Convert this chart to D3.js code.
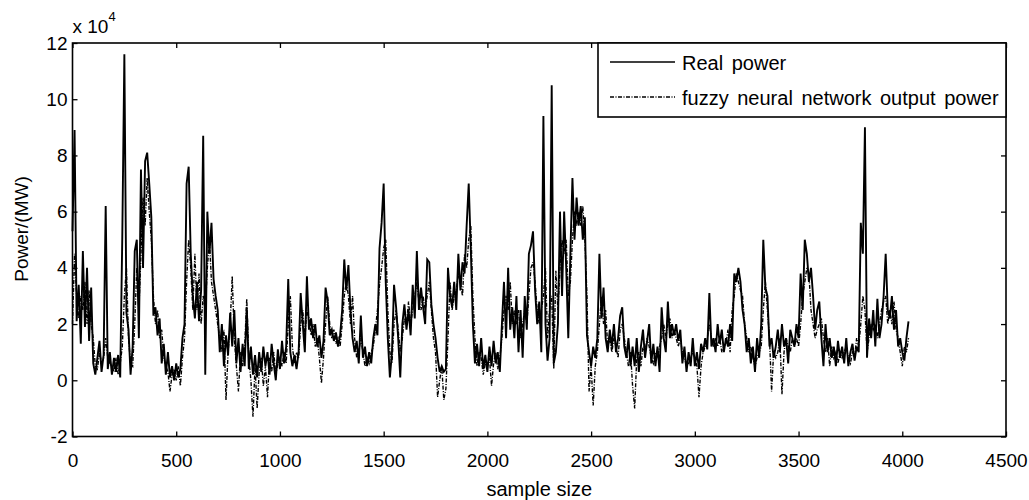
<!DOCTYPE html>
<html><head><meta charset="utf-8">
<script src="https://cdn.jsdelivr.net/npm/d3@7"></script>
<style>
html,body{margin:0;padding:0;background:#fff;}
svg{display:block;font-family:"Liberation Sans",Arial,Helvetica,sans-serif;}
</style></head>
<body><svg id="chart" width="1029" height="500"></svg>
<script>
// sample index step between stored values
const sampleStep = 10;
// Real power (x 10^4 MW), one value every 10 samples starting at 0
const realPower = [
5.3,8.9,2.1,3.4,1.3,4.6,1.9,4.0,1.4,3.3,
0.6,0.2,0.8,1.4,0.3,0.9,6.2,0.4,1.0,0.2,
0.8,0.3,0.9,0.1,5.1,11.6,2.4,1.8,0.2,1.2,
4.6,5.0,1.5,7.5,4.0,7.8,8.1,7.0,5.8,2.3,
2.6,1.6,2.2,0.6,1.3,0.2,1.0,0.1,0.5,0.0,
0.6,0.1,0.4,1.5,2.0,7.0,7.6,4.5,3.0,2.2,
3.5,2.1,3.2,8.7,0.2,6.0,4.5,5.6,3.6,3.0,
2.5,1.0,2.0,0.5,1.6,0.9,2.4,1.2,2.5,0.6,
1.5,0.3,1.3,0.5,2.6,0.4,1.2,0.2,0.9,0.1,
1.0,0.3,1.2,0.5,1.0,0.2,1.3,0.6,0.0,1.1,
0.4,1.4,0.6,1.2,3.6,1.0,0.5,0.9,0.4,1.0,
3.1,2.0,1.0,3.7,1.8,2.2,1.5,2.0,1.2,1.6,
0.8,1.4,3.3,2.8,1.6,1.8,1.4,1.7,1.2,1.6,
2.5,4.3,3.2,4.1,2.5,1.5,1.0,1.4,0.6,2.3,
0.8,1.2,0.5,1.0,0.6,1.5,2.0,1.6,4.7,5.6,
7.0,3.5,1.5,0.1,1.0,3.4,2.6,1.5,0.1,2.0,
2.7,1.8,2.5,1.6,3.4,2.2,4.6,2.5,3.3,2.6,
2.0,4.3,4.2,2.7,2.0,1.5,0.8,0.3,0.5,0.3,
0.4,4.0,3.0,2.6,3.5,2.5,4.5,3.2,4.2,3.8,
5.5,7.0,4.7,2.0,0.6,1.3,0.5,1.5,0.4,0.9,
0.3,1.2,0.5,1.4,0.6,1.0,0.3,2.0,3.5,1.5,
4.0,1.8,2.6,1.5,3.0,1.0,2.5,0.8,3.0,1.8,
4.5,4.8,5.3,3.2,2.0,2.8,1.0,9.4,2.0,0.7,
1.5,10.5,0.6,1.0,2.0,6.0,3.0,6.0,4.0,1.5,
4.5,7.2,5.0,6.5,5.5,6.2,5.0,5.8,1.6,1.0,
0.5,1.2,0.8,1.5,4.5,2.2,3.3,1.5,1.0,1.8,
1.2,2.0,1.0,1.5,2.3,2.6,1.2,0.8,1.5,0.5,
1.2,0.5,1.5,0.3,1.2,1.8,0.8,1.4,2.0,0.6,
1.3,0.5,1.2,0.3,2.6,1.5,1.0,2.8,1.5,2.0,
1.6,2.0,1.4,1.8,0.6,1.2,0.3,1.0,0.5,1.5,
0.5,1.0,0.4,1.3,1.0,1.5,1.1,3.1,1.2,1.5,
1.0,2.0,1.3,1.8,1.0,1.5,1.2,2.0,1.4,3.8,
3.5,4.0,3.5,2.5,2.0,1.0,1.5,0.6,1.2,0.3,
1.5,0.8,2.0,5.0,3.3,3.0,1.2,1.5,0.8,1.2,
1.8,1.0,2.0,1.2,1.5,0.6,1.8,1.5,1.2,2.0,
1.5,3.8,2.5,5.0,4.5,3.5,4.0,3.0,1.8,2.5,
2.8,1.5,0.5,2.0,1.0,1.5,0.8,1.2,0.5,1.4,
0.8,1.2,0.6,1.5,0.5,1.0,1.3,0.7,1.2,1.0,
5.6,4.5,9.0,0.8,2.2,1.5,2.5,1.2,2.9,1.5,
2.0,3.0,4.5,2.5,2.2,3.0,1.8,2.5,1.2,1.5,
1.0,0.7,1.5,2.1
];
// Fuzzy neural network output power (x 10^4 MW), same sampling
const fnnPower = [
2.0,4.5,3.0,2.2,3.0,2.5,3.5,2.0,3.2,2.0,
1.5,0.5,0.4,1.0,0.6,0.8,1.5,0.8,0.6,0.5,
0.3,0.8,0.2,0.6,1.2,3.0,4.0,1.5,0.6,0.5,
2.0,4.0,2.5,4.5,6.5,5.5,7.2,6.0,5.0,3.0,
2.0,2.5,1.5,1.8,0.8,0.5,0.3,-0.4,0.2,0.4,
0.0,0.5,-0.2,0.8,1.5,3.5,5.0,4.0,2.5,4.5,
2.5,3.8,2.0,3.0,2.5,4.0,5.0,3.5,3.0,2.5,
2.0,1.5,1.0,1.8,-0.7,1.0,2.0,3.7,1.5,0.5,
-0.4,1.0,0.5,1.2,2.9,0.8,0.0,-1.3,0.5,-1.0,
0.3,0.8,-0.2,0.5,-0.6,0.8,0.3,1.0,0.2,0.6,
0.8,0.5,1.0,0.6,2.0,3.0,1.2,0.6,1.0,0.8,
2.0,2.5,1.5,2.5,2.2,1.6,2.0,1.2,1.5,0.8,
-0.1,0.8,2.0,3.0,2.0,1.5,1.8,1.3,1.5,1.2,
2.0,3.0,3.5,3.0,2.0,3.0,1.5,0.8,1.0,1.5,
1.0,0.5,0.8,0.6,1.0,1.2,1.8,2.5,3.4,4.0,
4.7,5.0,2.5,1.0,0.6,2.0,2.5,1.8,1.0,1.5,
2.2,2.0,2.8,2.0,2.5,3.0,3.5,2.8,2.5,3.0,
2.5,3.0,3.5,2.5,1.5,1.0,-0.6,0.0,0.5,-0.7,
-0.3,1.5,3.5,2.5,3.0,3.2,3.8,3.5,3.0,4.5,
4.0,5.0,5.5,3.0,1.5,0.5,1.0,0.8,0.2,0.6,
0.5,0.8,-0.2,0.6,1.0,0.4,0.8,1.5,2.5,3.0,
2.5,3.5,2.0,2.5,2.0,2.5,1.5,2.0,2.5,2.0,
3.0,4.0,4.2,3.5,2.5,2.0,2.5,3.0,4.0,1.5,
2.5,3.0,0.4,3.9,2.5,4.0,5.0,4.5,5.0,3.0,
3.5,5.0,6.0,5.5,6.0,5.5,6.2,5.0,3.0,-0.4,
0.5,-0.9,0.5,1.0,2.0,3.0,2.0,2.5,1.2,1.5,
1.0,1.5,1.2,0.8,1.8,2.0,1.5,1.0,0.5,1.0,
-0.2,-1.0,0.8,1.0,0.5,1.2,1.0,1.5,1.2,0.8,
0.6,1.0,0.8,1.2,1.5,2.0,1.5,2.0,2.2,1.5,
1.8,1.5,1.2,1.5,1.0,0.8,0.5,0.6,0.8,1.0,
0.8,0.5,-0.6,0.5,1.0,1.2,1.5,2.0,1.5,1.2,
1.5,1.2,1.5,1.0,1.2,1.3,1.8,1.0,2.5,3.0,
3.8,3.5,3.2,3.0,2.0,1.5,1.0,1.2,0.8,0.5,
0.8,1.0,1.2,2.5,3.5,2.5,1.5,-0.4,1.0,0.8,
1.0,1.5,-0.5,1.0,1.5,1.2,1.0,1.5,1.2,1.5,
1.2,2.0,3.0,3.5,4.0,3.8,2.5,2.0,1.5,1.8,
2.0,2.2,1.5,1.0,1.5,0.5,1.2,0.8,1.0,0.6,
1.0,0.8,1.0,1.2,0.8,0.6,1.0,0.8,1.5,1.2,
2.0,3.0,2.5,1.0,1.5,2.0,1.8,2.0,1.5,2.0,
2.5,2.8,3.0,2.0,2.5,2.0,2.8,1.8,1.5,1.0,
0.5,1.2,1.0,1.5
];
const xTicks = [0,500,1000,1500,2000,2500,3000,3500,4000,4500];
const yTicks = [-2,0,2,4,6,8,10,12];
const seriesNames = ["Real power","fuzzy neural network output power"];
const xLabel = "sample size";
const yLabel = "Power/(MW)";
const expLabel = "x 10";
const expPower = "4";

const svg = d3.select("#chart");
const L = 72.5, R = 1006, T = 43, B = 436.5;
const x = d3.scaleLinear().domain([0,4500]).range([L,R]);
const y = d3.scaleLinear().domain([-2,12]).range([B,T]);

const line = d3.line().x((d,i)=>x(i*sampleStep)).y(d=>y(d));

svg.append("path").datum(realPower).attr("d",line)
  .attr("fill","none").attr("stroke","#000").attr("stroke-width",1.9).attr("stroke-linejoin","miter");
svg.append("path").datum(fnnPower).attr("d",line)
  .attr("fill","none").attr("stroke","#000").attr("stroke-width",1.4)
  .attr("stroke-dasharray","4,1.5,1,1.5");

const fs = 19;
const fmt = d => String(d);
const gx = svg.append("g").attr("transform",`translate(0,${B})`)
  .call(d3.axisBottom(x).tickValues(xTicks).tickFormat(fmt).tickSizeInner(-5).tickSizeOuter(0).tickPadding(15));
const gxt = svg.append("g").attr("transform",`translate(0,${T})`)
  .call(d3.axisTop(x).tickValues(xTicks).tickFormat("").tickSizeInner(-5).tickSizeOuter(0));
const gy = svg.append("g").attr("transform",`translate(${L},0)`)
  .call(d3.axisLeft(y).tickValues(yTicks).tickFormat(fmt).tickSizeInner(-5).tickSizeOuter(0).tickPadding(5));
const gyr = svg.append("g").attr("transform",`translate(${R},0)`)
  .call(d3.axisRight(y).tickValues(yTicks).tickFormat("").tickSizeInner(-5).tickSizeOuter(0));
[gx,gxt,gy,gyr].forEach(g=>{
  g.select(".domain").remove();
  g.selectAll(".tick line").attr("stroke","#000").attr("stroke-width",1.3);
  g.selectAll("text").attr("font-size",fs).attr("fill","#000").attr("font-family","Liberation Sans,Arial,sans-serif");
});
gx.selectAll("text").attr("dy","0.8em");

svg.append("rect").attr("x",L).attr("y",T).attr("width",R-L).attr("height",B-T)
  .attr("fill","none").attr("stroke","#000").attr("stroke-width",1.6);

// exponent label
const ex = svg.append("text").attr("x",L).attr("y",33).attr("font-size",fs).attr("fill","#000");
ex.append("tspan").text(expLabel);
ex.append("tspan").attr("dy",-12).attr("font-size",13).text(expPower);

svg.append("text").attr("x",(L+R)/2).attr("y",496).attr("text-anchor","middle")
  .attr("font-size",20).attr("fill","#000").text(xLabel);
svg.append("text").attr("transform",`translate(28,229) rotate(-90)`).attr("text-anchor","middle")
  .attr("font-size",19).attr("fill","#000").text(yLabel);

// legend
const lg = svg.append("g");
lg.append("rect").attr("x",598).attr("y",T).attr("width",R-598).attr("height",117-T)
  .attr("fill","#fff").attr("stroke","#000").attr("stroke-width",1.6);
const rows = [62,97];
lg.append("line").attr("x1",610).attr("x2",675).attr("y1",rows[0]).attr("y2",rows[0]).attr("stroke","#000").attr("stroke-width",1.3);
lg.append("line").attr("x1",610).attr("x2",675).attr("y1",rows[1]).attr("y2",rows[1]).attr("stroke","#000").attr("stroke-width",1.3).attr("stroke-dasharray","4,1.5,1,1.5");
seriesNames.forEach((n,i)=>{
  lg.append("text").attr("x",682).attr("y",rows[i]+1).attr("dy","0.35em").attr("font-size",20)
    .attr("word-spacing","3px").attr("fill","#000").text(n);
});
</script></body></html>
